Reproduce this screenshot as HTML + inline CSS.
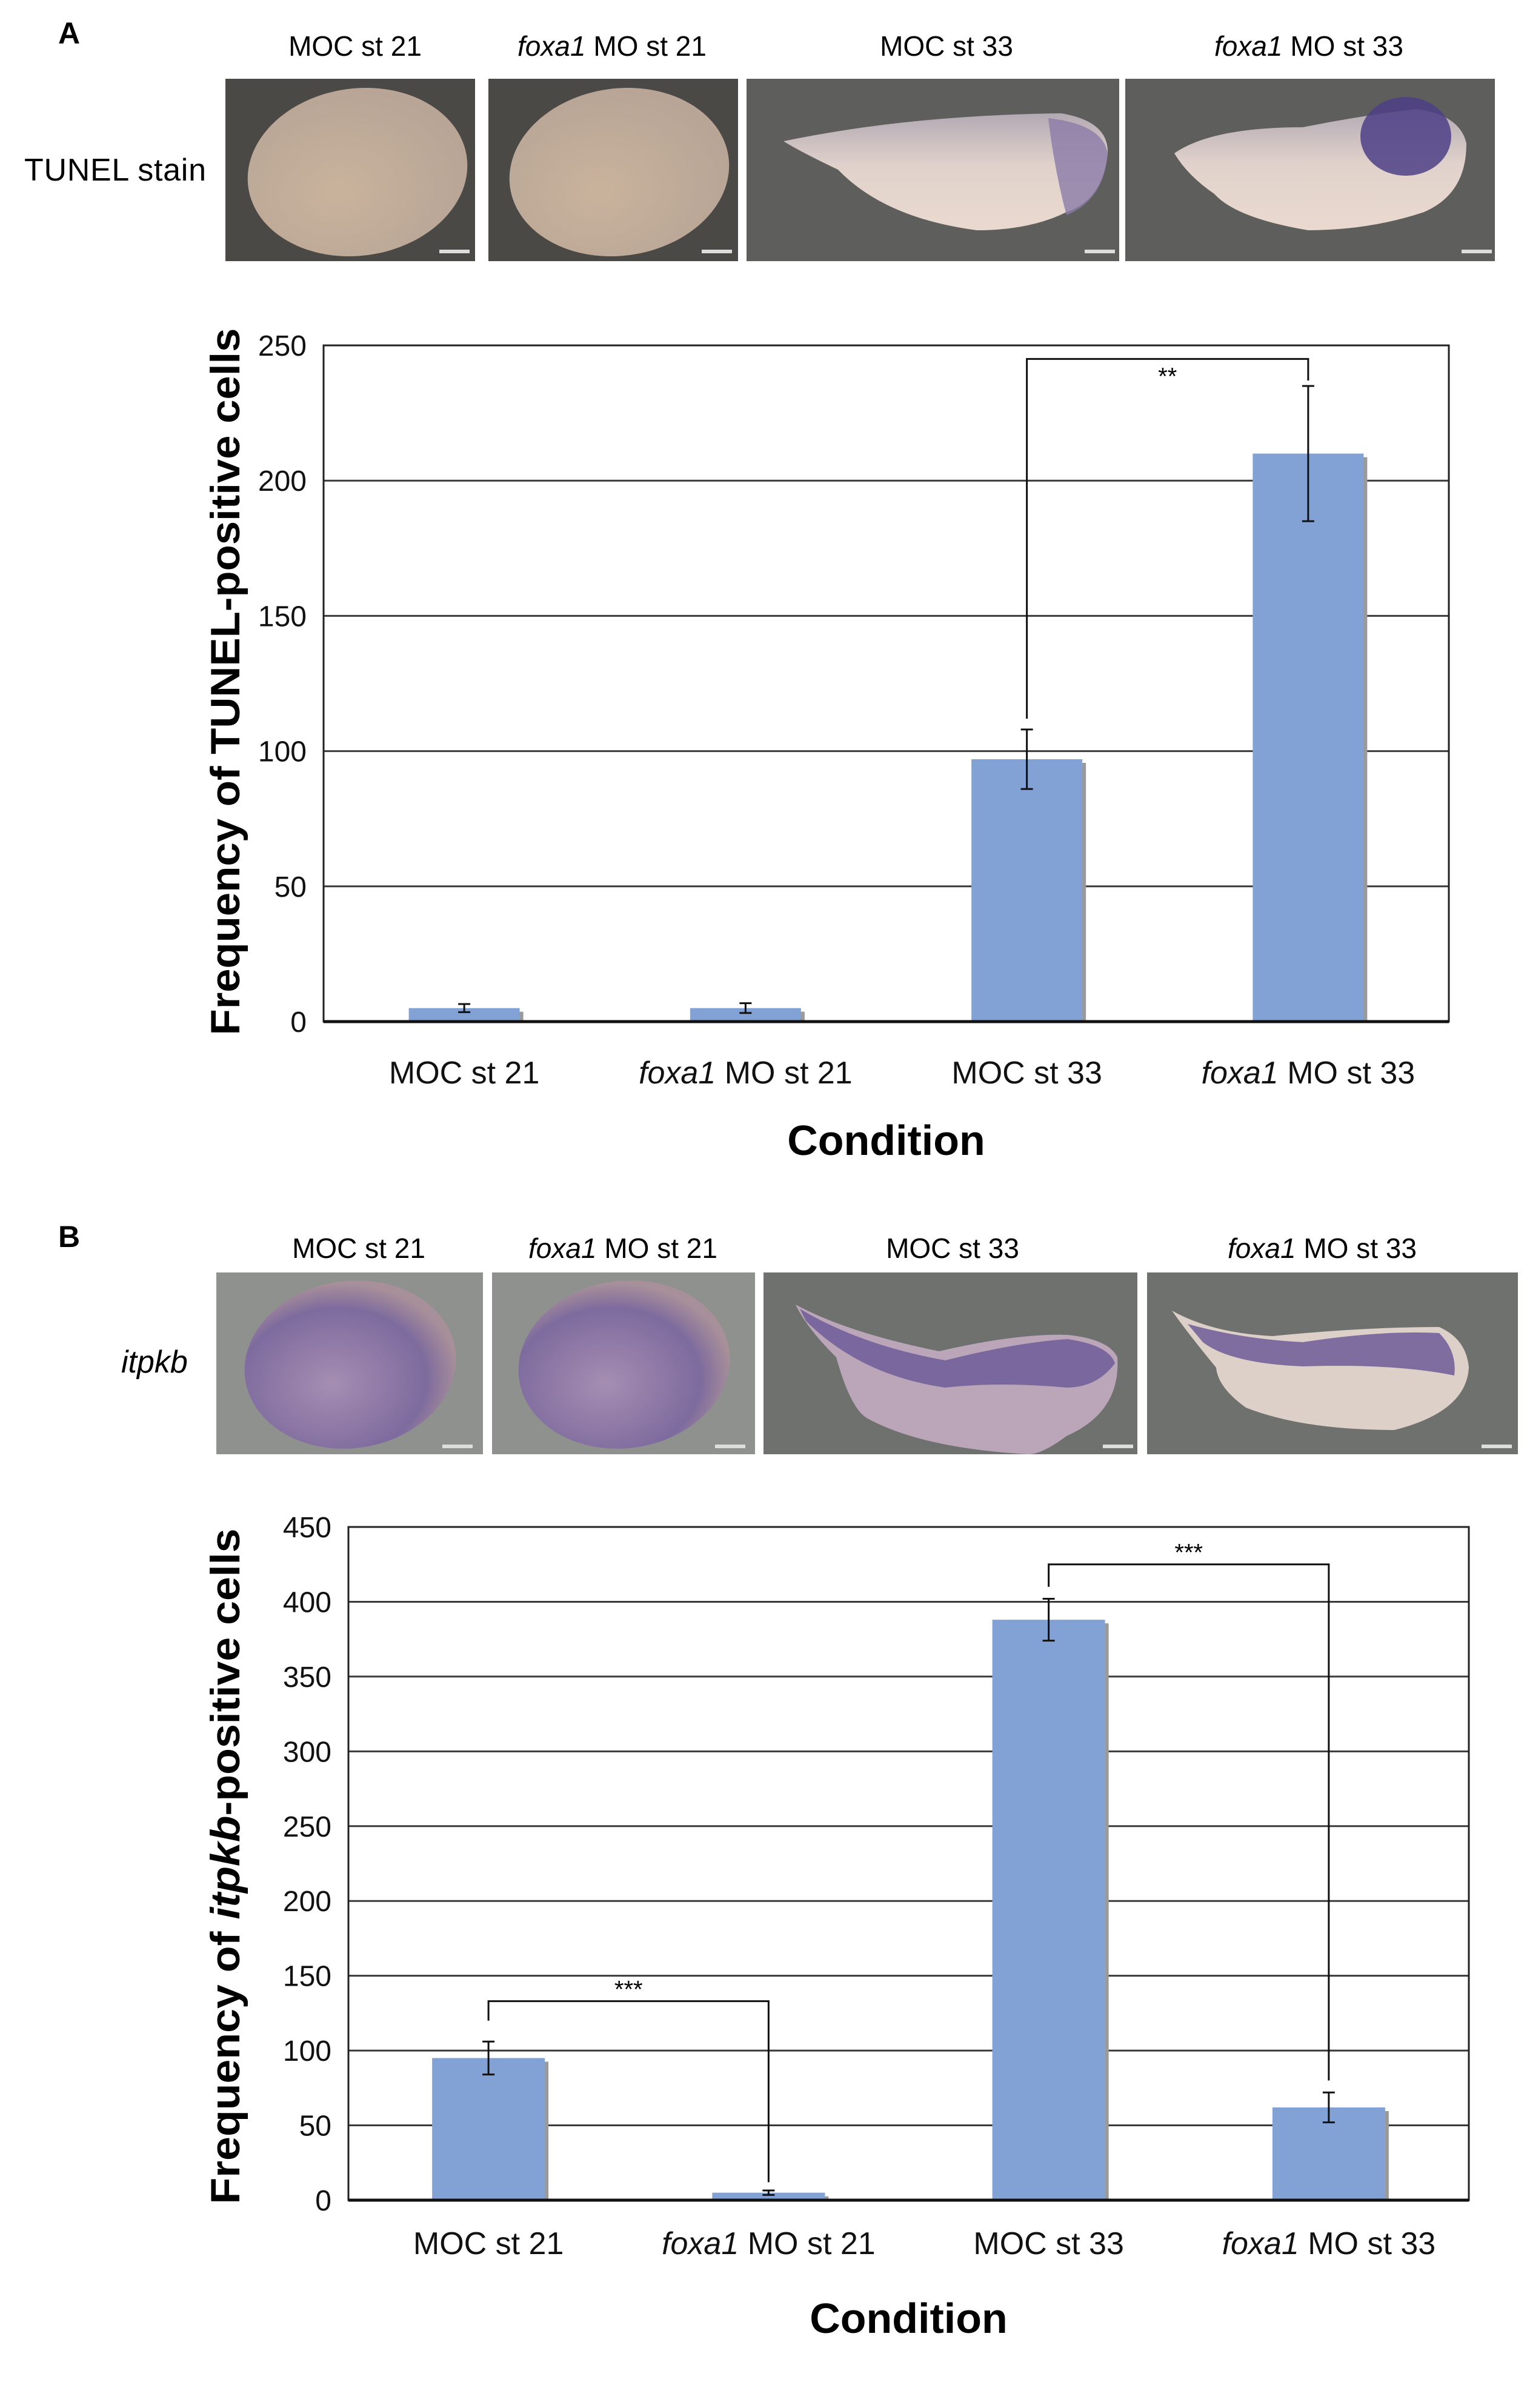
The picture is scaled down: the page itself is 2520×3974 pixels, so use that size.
<!DOCTYPE html>
<html><head><meta charset="utf-8"><style>
html,body{margin:0;padding:0;background:#fff;}
svg{display:block;font-family:"Liberation Sans",sans-serif;}
</style></head><body>
<svg id="fig" width="2520" height="3974" viewBox="0 0 2520 3974" xmlns="http://www.w3.org/2000/svg">
<defs>
<radialGradient id="egA" cx="40%" cy="60%" r="60%"><stop offset="0" stop-color="#c9b39c"/><stop offset="1" stop-color="#b8a596"/></radialGradient>
<radialGradient id="egB" cx="40%" cy="60%" r="60%"><stop offset="0" stop-color="#a68eb2"/><stop offset="0.75" stop-color="#7e6b9e"/><stop offset="1" stop-color="#a8909a"/></radialGradient>
<linearGradient id="tadA" x1="0" y1="0" x2="0" y2="1"><stop offset="0" stop-color="#b3a9b3"/><stop offset="0.45" stop-color="#e0d2cb"/><stop offset="1" stop-color="#ead9cf"/></linearGradient>
</defs>
<text x="96" y="72" font-size="50" font-weight="bold">A</text>
<text x="40" y="298" font-size="52" textLength="300">TUNEL stain</text>
<g>
<text x="586" y="92" font-size="46" text-anchor="middle">MOC st 21</text>
<text x="1010" y="92" font-size="46" text-anchor="middle"><tspan font-style="italic">foxa1</tspan> MO st 21</text>
<text x="1562" y="92" font-size="46" text-anchor="middle">MOC st 33</text>
<text x="2160" y="92" font-size="46" text-anchor="middle"><tspan font-style="italic">foxa1</tspan> MO st 33</text>
<rect x="372" y="130" width="412" height="301" fill="#4a4946"/>
<ellipse cx="590" cy="284" rx="182" ry="138" transform="rotate(-8 590 284)" fill="url(#egA)"/>
<rect x="725" y="412" width="50" height="6" fill="#ddd"/>
<rect x="806" y="130" width="412" height="301" fill="#4a4946"/>
<ellipse cx="1022" cy="284" rx="182" ry="138" transform="rotate(-8 1022 284)" fill="url(#egA)"/>
<rect x="1158" y="412" width="50" height="6" fill="#ddd"/>
<rect x="1232" y="130" width="615" height="301" fill="#5e5f5d"/>
<path d="M1293 233 Q1500 190 1751 187 Q1830 200 1828 253 Q1820 330 1760 350 Q1700 380 1612 380 Q1460 360 1383 280 Q1320 250 1293 233Z" fill="url(#tadA)"/>
<path d="M1730 195 Q1820 205 1828 253 Q1822 330 1760 355 Q1740 280 1730 195Z" fill="#8b7aa8" opacity="0.8"/>
<rect x="1790" y="412" width="50" height="6" fill="#ddd"/>
<rect x="1857" y="130" width="610" height="301" fill="#5e5f5d"/>
<path d="M1938 253 Q2000 210 2150 210 Q2250 190 2338 180 Q2410 190 2420 237 Q2420 320 2350 350 Q2260 380 2159 380 Q2040 360 2004 320 Q1960 290 1938 253Z" fill="url(#tadA)"/>
<ellipse cx="2320" cy="225" rx="75" ry="65" fill="#4e3f86" opacity="0.85"/>
<rect x="2412" y="412" width="50" height="6" fill="#ddd"/>
</g>
<text x="96" y="2058" font-size="50" font-weight="bold">B</text>
<text x="200" y="2265" font-size="52" font-style="italic">itpkb</text>
<g>
<text x="592" y="2076" font-size="46" text-anchor="middle">MOC st 21</text>
<text x="1028" y="2076" font-size="46" text-anchor="middle"><tspan font-style="italic">foxa1</tspan> MO st 21</text>
<text x="1572" y="2076" font-size="46" text-anchor="middle">MOC st 33</text>
<text x="2182" y="2076" font-size="46" text-anchor="middle"><tspan font-style="italic">foxa1</tspan> MO st 33</text>
<rect x="357" y="2100" width="440" height="300" fill="#8f918e"/>
<ellipse cx="578" cy="2252" rx="175" ry="138" transform="rotate(-8 578 2252)" fill="url(#egB)"/>
<rect x="730" y="2384" width="50" height="6" fill="#ddd"/>
<rect x="812" y="2100" width="434" height="300" fill="#8f918e"/>
<ellipse cx="1030" cy="2252" rx="175" ry="138" transform="rotate(-8 1030 2252)" fill="url(#egB)"/>
<rect x="1180" y="2384" width="50" height="6" fill="#ddd"/>
<rect x="1260" y="2100" width="617" height="300" fill="#6e716e"/>
<path d="M1313 2153 Q1400 2200 1550 2230 Q1680 2200 1762 2203 Q1830 2210 1844 2240 Q1850 2330 1760 2370 Q1720 2400 1697 2400 Q1520 2390 1430 2340 Q1403 2323 1380 2240 Q1330 2190 1313 2153Z" fill="#baa6b8"/>
<path d="M1320 2160 Q1420 2220 1560 2245 Q1680 2215 1762 2210 Q1830 2220 1840 2250 Q1810 2290 1760 2290 Q1650 2280 1560 2290 Q1420 2270 1330 2180Z" fill="#6f5c98" opacity="0.85"/>
<rect x="1820" y="2384" width="50" height="6" fill="#ddd"/>
<rect x="1893" y="2100" width="612" height="300" fill="#6e716e"/>
<path d="M1934 2163 Q2000 2200 2100 2205 Q2250 2190 2375 2190 Q2420 2210 2424 2257 Q2420 2330 2301 2360 Q2150 2360 2056 2323 Q2010 2290 2007 2257 Q1960 2200 1934 2163Z" fill="#ddd0c8"/>
<path d="M1960 2185 Q2050 2210 2150 2215 Q2280 2195 2375 2200 Q2405 2230 2400 2270 Q2300 2250 2150 2255 Q2030 2250 1985 2215Z" fill="#6f5c98" opacity="0.85"/>
<rect x="2445" y="2384" width="50" height="6" fill="#ddd"/>
</g>
<g id="chartA"></g>
<g id="chartB"></g>
</svg>
<script>
const categories = ["MOC st 21", "foxa1 MO st 21", "MOC st 33", "foxa1 MO st 33"];
const valuesA = [5, 5, 97, 210];
const errorsA = [1.5, 1.8, 11, 25];
const ticksA = [0, 50, 100, 150, 200, 250];
const valuesB = [95, 5, 388, 62];
const errorsB = [11, 1.5, 14, 10];
const ticksB = [0, 50, 100, 150, 200, 250, 300, 350, 400, 450];
const NS = "http://www.w3.org/2000/svg";
function mk(parent, tag, attrs, txt) {
  const e = document.createElementNS(NS, tag);
  for (const k in attrs) e.setAttribute(k, attrs[k]);
  if (txt !== undefined) e.textContent = txt;
  parent.appendChild(e);
  return e;
}
function drawChart(g, cfg, values, errors, ticks, brackets) {
  const ymax = ticks[ticks.length - 1];
  const y = v => cfg.bottom - (v / ymax) * (cfg.bottom - cfg.top);
  const step = (cfg.right - cfg.left) / categories.length;
  const x = i => cfg.left + step * (i + 0.5);
  ticks.forEach(t => {
    if (t > 0 && t < ymax) {
      const l = mk(g, "line", {x1: cfg.left, x2: cfg.right, y1: y(t), y2: y(t), stroke: "#3a3a3a", "stroke-width": 3});
      
      
    }
    const tl = mk(g, "text", {x: cfg.left - 28, y: y(t) + 17, "font-size": 48, "text-anchor": "end", fill: "#111"}, String(t));
    
    
  });
  values.forEach((v, i) => {
    const bw = cfg.barW;
    const sh = mk(g, "rect", {x: x(i) - bw / 2 + 6, y: y(v) + 6, width: bw, height: cfg.bottom - y(v) - 6, fill: "#9a9a9a"});
    
    
    const b = mk(g, "rect", {x: x(i) - bw / 2, y: y(v), width: bw, height: cfg.bottom - y(v), fill: "#82a2d5"});
    
    
    const e = errors[i];
    const eb = mk(g, "path", {d: `M${x(i)} ${y(v + e)}V${y(v - e)}M${x(i) - 10} ${y(v + e)}H${x(i) + 10}M${x(i) - 10} ${y(v - e)}H${x(i) + 10}`, stroke: "#111", "stroke-width": 3, fill: "none"});
    
    
    const parts = categories[i].split(" ");
    const lab = mk(g, "text", {x: x(i), y: cfg.xLabY, "font-size": 52, "text-anchor": "middle", fill: "#111"});
    
    
    if (parts[0] === "foxa1") {
      mk(lab, "tspan", {"font-style": "italic"}, "foxa1");
      mk(lab, "tspan", {}, " " + parts.slice(1).join(" "));
    } else lab.textContent = categories[i];
  });
  const frame = mk(g, "rect", {x: cfg.left, y: cfg.top, width: cfg.right - cfg.left, height: cfg.bottom - cfg.top, fill: "none", stroke: "#222", "stroke-width": 3});
  
  
  mk(g, "line", {x1: cfg.left, x2: cfg.right, y1: cfg.bottom, y2: cfg.bottom, stroke: "#111", "stroke-width": 5});
  brackets.forEach(br => {
    const p = mk(g, "path", {d: `M${x(br.a)} ${y(br.ya)}V${y(br.top)}H${x(br.b)}V${y(br.yb)}`, stroke: "#111", "stroke-width": 3, fill: "none"});
    
    
    const s = mk(g, "text", {x: (x(br.a) + x(br.b)) / 2, y: y(br.top) + br.dy, "font-size": 40, "text-anchor": "middle"}, br.label);
    
    
  });
  const yt = mk(g, "text", {x: 0, y: 0, "font-size": 68, "font-weight": "bold", "text-anchor": "middle", transform: `translate(${cfg.yTitleX},${cfg.yTitleY}) rotate(-90)`, textLength: cfg.yTitleLen, lengthAdjust: "spacingAndGlyphs"});
  
  
  cfg.yTitle.forEach(p => mk(yt, "tspan", p.it ? {"font-style": "italic"} : {}, p.t));
  const xt = mk(g, "text", {x: (cfg.left + cfg.right) / 2, y: cfg.xTitleY, "font-size": 70, "font-weight": "bold", "text-anchor": "middle"}, "Condition");
  
  
}
drawChart(document.getElementById("chartA"),
  {left: 534, right: 2391, top: 570, bottom: 1686, barW: 183, xLabY: 1788, xTitleY: 1906,
   yTitleX: 395, yTitleY: 1125, yTitleLen: 1167, yTitle: [{t: "Frequency of TUNEL-positive cells"}]},
  valuesA, errorsA, ticksA,
  [{a: 2, b: 3, ya: 112, yb: 237, top: 245, label: "**", dy: 42}]);
drawChart(document.getElementById("chartB"),
  {left: 575, right: 2424, top: 2520, bottom: 3631, barW: 186, xLabY: 3720, xTitleY: 3850,
   yTitleX: 395, yTitleY: 3080, yTitleLen: 1115, yTitle: [{t: "Frequency of "}, {t: "itpkb", it: true}, {t: "-positive cells"}]},
  valuesB, errorsB, ticksB,
  [{a: 0, b: 1, ya: 120, yb: 12, top: 133, label: "***", dy: -6},
   {a: 2, b: 3, ya: 410, yb: 80, top: 425, label: "***", dy: -6}]);
</script>
</body></html>
